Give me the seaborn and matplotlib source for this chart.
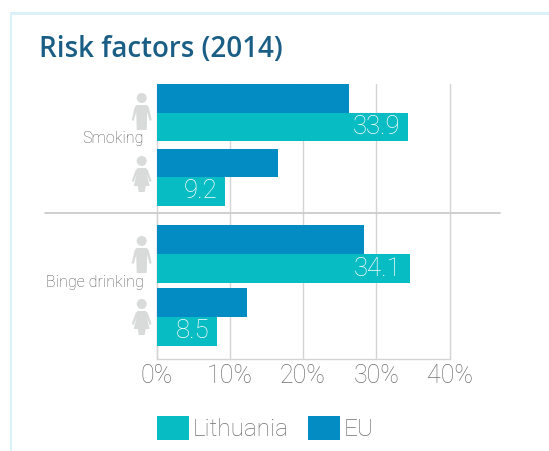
import matplotlib
matplotlib.use("Agg")
import matplotlib.pyplot as plt
from matplotlib.patches import Circle, Polygon, Rectangle, Patch
from matplotlib.lines import Line2D
from matplotlib.transforms import Affine2D
import pandas as pd
import seaborn as sns

# ---- data -------------------------------------------------------------
sexes = ["Men", "Women"]
countries = ["EU", "Lithuania"]
smoking_eu = [26.3, 16.6]
smoking_lt = [34.4, 9.4]
smoking_labels = ["33.9", "9.2"]
binge_eu = [28.3, 12.4]
binge_lt = [34.6, 8.3]
binge_labels = ["34.1", "8.5"]
x_ticks = [0, 10, 20, 30, 40]
x_tick_labels = ["0%", "10%", "20%", "30%", "40%"]
title = "Risk factors (2014)"
group_names = ["Smoking", "Binge drinking"]

COL_EU = "#028CC3"
COL_LT = "#08BCC3"
GRID = "#D4D4D4"
TXT = "#707070"
FONT = "Roboto"
W, H = 549, 451

sns.set_theme(style="white")
plt.rcParams["font.family"] = [FONT, "DejaVu Sans"]
fig = plt.figure(figsize=(W / 100, H / 100), dpi=100)
px = Affine2D().scale(1, -1).translate(0, H)   # decoration placed in image pixels


def make_axes(top, bottom):
    return fig.add_axes([156.5 / W, 1 - bottom / H, 293 / W, (bottom - top) / H])


def draw(ax, eu, lt, labels, width, ylim):
    df = pd.DataFrame({
        "sex": sexes * 2,
        "country": [countries[0]] * 2 + [countries[1]] * 2,
        "value": list(eu) + list(lt),
    })
    sns.barplot(data=df, y="sex", x="value", hue="country", hue_order=countries,
                palette={"EU": COL_EU, "Lithuania": COL_LT}, orient="h",
                width=width, gap=0, saturation=1, legend=False, ax=ax, zorder=3,
                linewidth=0, edgecolor="none")
    ax.set_xlim(0, 40)
    ax.set_ylim(*ylim)
    ax.set_xlabel("")
    ax.set_ylabel("")
    ax.set_yticks([])
    ax.set_xticks(x_ticks)
    ax.xaxis.grid(True, color=GRID, lw=1.0, clip_on=False)
    ax.set_axisbelow(True)
    for s in ("top", "right"):
        ax.spines[s].set_visible(False)
    for s in ("left", "bottom"):
        ax.spines[s].set_color(GRID)
        ax.spines[s].set_linewidth(1.0)
    for bar, lab in zip(ax.containers[1], labels):
        ax.annotate(lab, (bar.get_x() + bar.get_width(), bar.get_y() + bar.get_height() / 2),
                    xytext=(-6, 0), textcoords="offset points", ha="right", va="center",
                    color="white", fontsize=18.5, fontweight="light", zorder=5)


ax1 = make_axes(84, 213)
draw(ax1, smoking_eu, smoking_lt, smoking_labels, 0.884, (1.558, -0.442))
ax1.tick_params(bottom=False, labelbottom=False)
ax1.spines["bottom"].set_visible(False)
ax1.spines["left"].set_visible(False)

ax2 = make_axes(213, 358.5)
draw(ax2, binge_eu, binge_lt, binge_labels, 0.928, (1.664, -0.656))
ax2.set_xticklabels(x_tick_labels, fontsize=18, color=TXT, fontweight="light")
ax2.tick_params(axis="x", bottom=False, pad=-2)

# ---- panel frame, title, divider --------------------------------------
FRAME = "#DCF0FA"
fig.add_artist(Rectangle((9.5, 12), W, 3, transform=px, fc=FRAME, ec="none"))
fig.add_artist(Rectangle((9.5, 12), 2.5, H, transform=px, fc=FRAME, ec="none"))
fig.text(39 / W, 1 - 49.5 / H, title, color="#1A5E86", fontsize=20, fontweight="semibold",
         va="center", ha="left", family="Open Sans")
fig.add_artist(Line2D([45, 500], [213, 213], transform=px, color="#CCCCCC", lw=1.3))

# ---- row labels and person icons --------------------------------------
for name, y in zip(group_names, (138.5, 282)):
    fig.text(144 / W, 1 - y / H, name, color="#555555", fontsize=11.5, fontweight="light",
             ha="right", va="center")

MAN = [(-5, 7), (5, 7), (7, 9), (10, 22), (8, 23), (5.5, 14), (5, 32), (-5, 32),
       (-5.5, 14), (-8, 23), (-10, 22), (-7, 9)]
WOMAN = [(-4, 7), (4, 7), (6, 9), (10, 20), (8, 21), (5, 13), (8, 25), (4, 25), (3, 31),
         (-3, 31), (-4, 25), (-8, 25), (-5, 13), (-8, 21), (-10, 20), (-6, 9)]
ICON = "#D9DBDB"
for shape, hy in ((MAN, 98), (WOMAN, 161), (MAN, 241), (WOMAN, 304)):
    tr = Affine2D().translate(141.7, hy) + px
    fig.add_artist(Circle((0, 0), 5, transform=tr, fc=ICON, ec="none"))
    fig.add_artist(Polygon(shape, closed=True, transform=tr, fc=ICON, ec="none"))

# ---- legend -----------------------------------------------------------
handles = [Patch(fc=COL_LT, label="Lithuania"), Patch(fc=COL_EU, label="EU")]
fs = 17.5
leg = fig.legend(handles=handles, loc="center left", bbox_to_anchor=(157 / W, 1 - 428.5 / H),
                 ncol=2, frameon=False, fontsize=fs, borderaxespad=0, borderpad=0,
                 handlelength=32 / (fs * 100 / 72), handleheight=27 / (fs * 100 / 72),
                 handletextpad=0.15, columnspacing=0.8, labelcolor=TXT)
for t in leg.get_texts():
    t.set_fontweight("light")
for h in leg.legend_handles:
    h.set_linewidth(0)

fig.savefig("out.png", dpi=100)
